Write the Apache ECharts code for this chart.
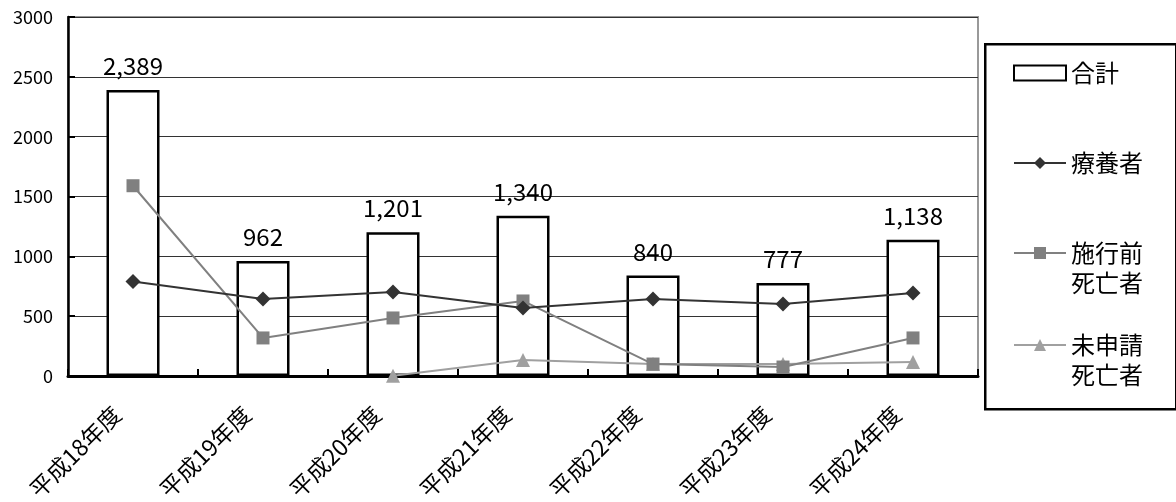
<!DOCTYPE html>
<html>
<head>
<meta charset="utf-8">
<script src="https://cdn.jsdelivr.net/npm/echarts@6/dist/echarts.min.js"></script>
<style>
html,body{margin:0;padding:0;background:#fff;}
#main{width:1176px;height:502px;}
</style>
</head>
<body>
<div id="main"></div>
<script>
var categories = ['平成18年度','平成19年度','平成20年度','平成21年度','平成22年度','平成23年度','平成24年度'];
var totalValues = [2389, 962, 1201, 1340, 840, 777, 1138];
var ryoyoValues = [790, 643, 702, 568, 643, 602, 694];
var sekouValues = [1590, 318, 485, 627, 100, 75, 318];
var mishinseiValues = [null, null, 3, 134, 100, 100, 117];
var yTicks = [0, 500, 1000, 1500, 2000, 2500, 3000];

var FONT = '"Noto Sans CJK JP", "Noto Sans", sans-serif';
var chart = echarts.init(document.getElementById('main'));

function legendAt(name, top, icon) {
  var item = {name: name};
  if (icon) item.icon = icon;
  return {
    show: true, orient: 'vertical', left: 1008, top: top,
    itemWidth: 52, itemHeight: 15, itemGap: 10,
    data: [item],
    formatter: function (n) { return n.indexOf('\n') >= 0 ? ' \n' + n : n; },
    textStyle: {fontFamily: FONT, fontSize: 24, color: '#000', lineHeight: 30}
  };
}

var option = {
  animation: false,
  backgroundColor: '#fff',
  grid: {left: 68, right: 198, top: 17, bottom: 126, outerBoundsMode: 'none', containLabel: false,
    show: true, borderColor: '#999', borderWidth: 2, backgroundColor: 'transparent'},
  legend: [
    legendAt('合計', 53, 'rect'),
    legendAt('療養者', 143),
    legendAt('施行前\n死亡者', 203),
    legendAt('未申請\n死亡者', 295)
  ],
  graphic: [{
    type: 'rect', left: 984, top: 43, z: -1,
    shape: {width: 191, height: 365},
    style: {fill: '#fff', stroke: '#000', lineWidth: 2.5}
  }],
  xAxis: {
    type: 'category', data: categories,
    axisLine: {lineStyle: {color: '#000', width: 3}},
    axisTick: {show: true, inside: true, length: 7, alignWithLabel: false, lineStyle: {color: '#000', width: 2}},
    axisLabel: {rotate: 45, margin: 18, fontFamily: FONT, fontSize: 23, color: '#000', interval: 0,
      formatter: function (v) { return v + '\u3000'; }}
  },
  yAxis: {
    type: 'value', min: 0, max: 3000, interval: 500,
    axisLine: {show: true, lineStyle: {color: '#000', width: 2.5}},
    axisTick: {show: true, inside: true, length: 7, lineStyle: {color: '#000', width: 2}},
    axisLabel: {fontFamily: FONT, fontSize: 18, color: '#000', margin: 15,
      formatter: function (v) { return yTicks.indexOf(v) >= 0 ? String(v) : ''; }},
    splitLine: {show: true, lineStyle: {color: '#333', width: 1}}
  },
  series: [
    {
      name: '合計', type: 'bar', data: totalValues, barWidth: 53,
      itemStyle: {color: '#fff', borderColor: '#000', borderWidth: 2.5},
      label: {show: true, position: 'top', distance: 12, fontFamily: FONT, fontSize: 24, color: '#000',
        formatter: function (p) { return p.value.toLocaleString('en-US'); }},
      z: 1
    },
    {
      name: '療養者', type: 'line', data: ryoyoValues,
      symbol: 'diamond', symbolSize: 15,
      lineStyle: {color: '#333', width: 2}, itemStyle: {color: '#333'}, z: 4
    },
    {
      name: '施行前\n死亡者', type: 'line', data: sekouValues,
      symbol: 'rect', symbolSize: 13,
      lineStyle: {color: '#808080', width: 2}, itemStyle: {color: '#808080'}, z: 3
    },
    {
      name: '未申請\n死亡者', type: 'line', data: mishinseiValues,
      symbol: 'triangle', symbolSize: 14,
      lineStyle: {color: '#a0a0a0', width: 2}, itemStyle: {color: '#a0a0a0'}, z: 2
    }
  ]
};
chart.setOption(option);
</script>
</body>
</html>
